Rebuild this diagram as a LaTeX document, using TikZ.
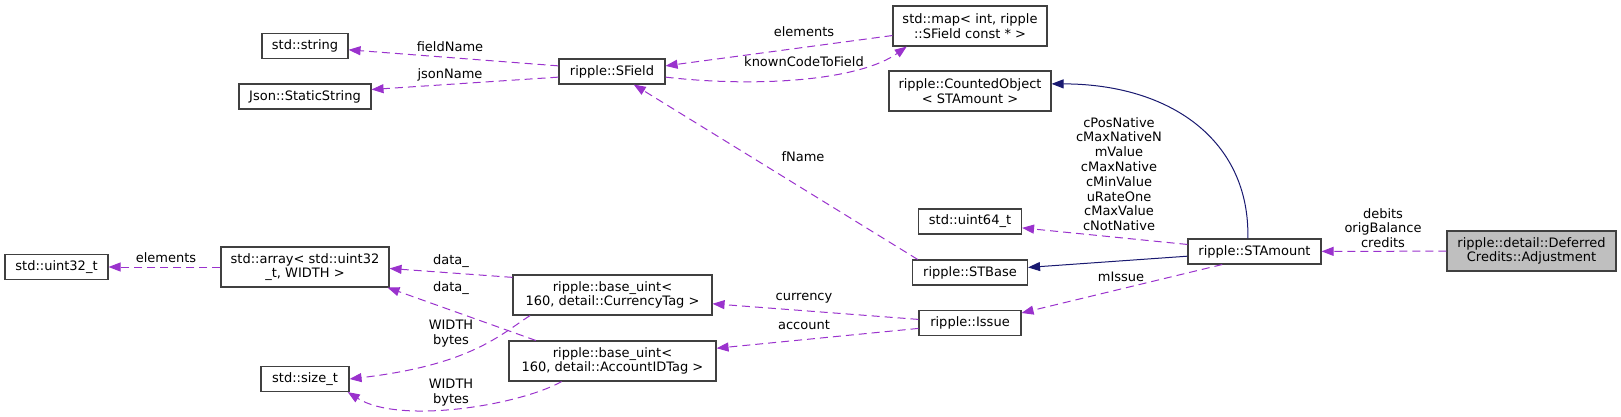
\documentclass[tikz,border=0pt]{standalone}
\usepackage{fontspec}
\setmainfont{DejaVu Sans}
\usetikzlibrary{arrows.meta}
\definecolor{depcol}{HTML}{9A32CD}
\definecolor{inhcol}{HTML}{191970}

\begin{document}
\begin{tikzpicture}[x=1pt,y=-1pt,
  font=\fontsize{13}{14.8}\selectfont,
  cls/.style={shape=rectangle,draw=black!75,line width=1.1pt,fill=white,align=center,inner sep=0pt,minimum height=25pt},
  dep/.style={draw=depcol,line width=1pt,dash pattern=on 8pt off 5pt,-{Triangle[length=12pt,width=9pt]}},
  inh/.style={draw=inhcol,line width=1pt,-{Triangle[length=12pt,width=9pt]}},
  lbl/.style={align=center,inner sep=0pt}]
\useasboundingbox (0,0) rectangle (1621,417);
\node[cls,minimum width=86pt] (str) at (305,46) {std::string};
\node[cls,minimum width=132pt] (json) at (305,96.5) {Json::StaticString};
\node[cls,minimum width=106pt] (sfield) at (612,71.5) {ripple::SField};
\node[cls,minimum width=154pt,minimum height=40pt] (map) at (970,26) {std::map< int, ripple\\::SField const * >};
\node[cls,minimum width=162pt,minimum height=40pt] (counted) at (970,91) {ripple::CountedObject\\< STAmount >};
\node[cls,minimum width=103pt] (u64) at (970,221.5) {std::uint64\_t};
\node[cls,minimum width=115pt] (stbase) at (970,272.5) {ripple::STBase};
\node[cls,minimum width=102pt] (issue) at (970,323) {ripple::Issue};
\node[cls,minimum width=133pt] (stamount) at (1254.5,251.5) {ripple::STAmount};
\node[cls,fill=black!25,minimum width=169pt,minimum height=40pt] (adj) at (1531.5,251) {ripple::detail::Deferred\\Credits::Adjustment};
\node[cls,minimum width=103pt] (u32) at (56.5,267) {std::uint32\_t};
\node[cls,minimum width=168pt,minimum height=40pt] (arr) at (305,267) {std::array< std::uint32\\\_t, WIDTH >};
\node[cls,minimum width=199pt,minimum height=40pt] (cur) at (612.5,295) {ripple::base\_uint<\\160, detail::CurrencyTag >};
\node[cls,minimum width=207pt,minimum height=40pt] (acc) at (612.5,361) {ripple::base\_uint<\\160, detail::AccountIDTag >};
\node[cls,minimum width=88pt] (sizet) at (305,379) {std::size\_t};

\draw[dep] (sfield.174) -- (str.-5);
\draw[dep] (sfield.186) -- (json.6);
\draw[dep] (map.187) -- (sfield.6);
\draw[dep] (sfield.-6) .. controls (760,88) and (860,80) .. (map.198);
\draw[dep] (stbase.166) -- (sfield.-31);
\draw[inh] (stamount.117) .. controls (1250,140) and (1170,84) .. (counted.5);
\draw[dep] (stamount.174) -- (u64.-7);
\draw[inh] (stamount.184) -- (stbase.5);
\draw[dep] (stamount.202) -- (issue.11);
\draw[dep] (adj) -- (stamount);
\draw[dep] (issue.176) -- (cur.-5);
\draw[dep] (issue.186) -- (acc.7);
\draw[dep] (cur.170) -- (arr.-1);
\draw[dep] (acc.165) -- (arr.-14);
\draw[dep] (cur.194) .. controls (500,335) and (470,365) .. (sizet.east);
\draw[dep] (acc.202) .. controls (520,405) and (400,425) .. (sizet.-17);
\draw[dep] (arr) -- (u32);

\node[lbl] (fieldname) at (450,47) {fieldName};
\node[lbl] (jsonname) at (450,75) {jsonName};
\node[lbl] (elements) at (804,32) {elements};
\node[lbl] (knowncode) at (804,62) {knownCodeToField};
\node[lbl] (fname) at (803,157) {fName};
\node[lbl] (consts) at (1119,174) {cPosNative\\cMaxNativeN\\mValue\\cMaxNative\\cMinValue\\uRateOne\\cMaxValue\\cNotNative};
\node[lbl] (adjfields) at (1383,228) {debits\\origBalance\\credits};
\node[lbl] (missue) at (1121,277) {mIssue};
\node[lbl] (currency) at (804,298) {currency};
\node[lbl] (account) at (804,325) {account};
\node[lbl] (arrelements) at (166,258) {elements};
\node[lbl] (data1) at (451,261) {data\_};
\node[lbl] (data2) at (451,288) {data\_};
\node[lbl] (width1) at (451,333.5) {WIDTH\\bytes};
\node[lbl] (width2) at (451,392.5) {WIDTH\\bytes};
\end{tikzpicture}
\end{document}
